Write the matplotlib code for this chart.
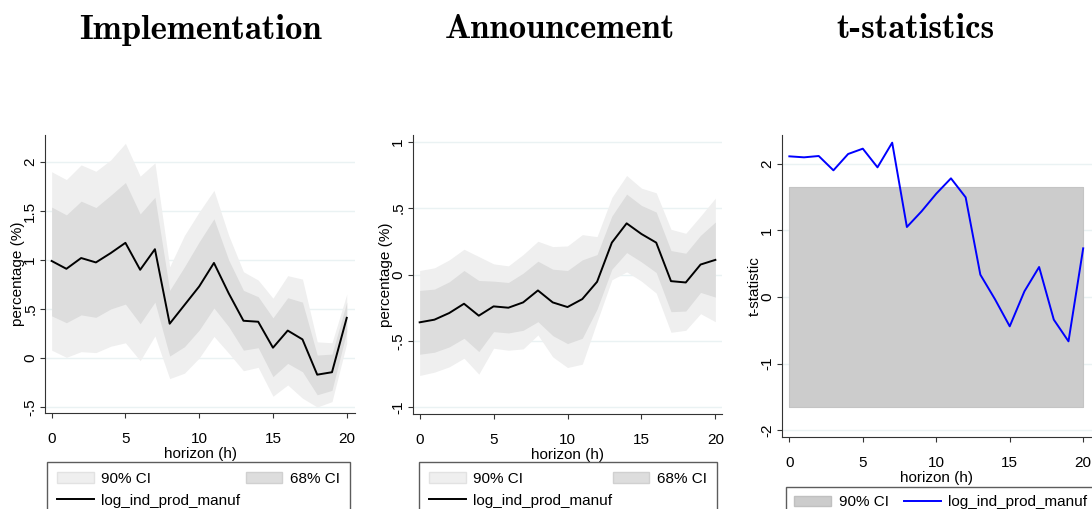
import numpy as np
import matplotlib.pyplot as plt
from matplotlib.patches import Patch
from matplotlib.lines import Line2D

plt.rcParams['font.family'] = ['Liberation Sans', 'DejaVu Sans']

h = np.arange(21)

# Implementation
imp = [0.99, 0.91, 1.02, 0.975, 1.07, 1.175, 0.90, 1.11, 0.35, 0.54, 0.73,
       0.97, 0.66, 0.38, 0.37, 0.105, 0.28, 0.19, -0.17, -0.145, 0.41]
imp_hi68 = [1.54, 1.46, 1.60, 1.535, 1.66, 1.79, 1.47, 1.64, 0.69, 0.93, 1.185,
            1.42, 1.00, 0.69, 0.625, 0.41, 0.615, 0.57, 0.03, 0.04, 0.57]
imp_lo68 = [0.43, 0.36, 0.44, 0.415, 0.50, 0.55, 0.35, 0.57, 0.02, 0.115, 0.285,
            0.51, 0.32, 0.08, 0.105, -0.19, -0.055, -0.14, -0.375, -0.33, 0.27]
imp_hi90 = [1.90, 1.82, 1.97, 1.905, 2.02, 2.19, 1.855, 1.99, 0.93, 1.25, 1.49,
            1.71, 1.25, 0.88, 0.795, 0.61, 0.84, 0.805, 0.165, 0.155, 0.65]
imp_lo90 = [0.08, 0.007, 0.065, 0.055, 0.12, 0.155, -0.027, 0.225, -0.21, -0.155, 0.0,
            0.22, 0.05, -0.13, -0.095, -0.39, -0.275, -0.41, -0.50, -0.445, 0.15]

# Announcement
ann = [-0.36, -0.34, -0.29, -0.22, -0.31, -0.24, -0.25, -0.21, -0.12, -0.21, -0.245,
       -0.185, -0.055, 0.24, 0.385, 0.305, 0.24, -0.05, -0.06, 0.075, 0.11]
ann_hi68 = [-0.12, -0.11, -0.055, 0.03, -0.045, -0.05, -0.06, 0.01, 0.10, 0.04, 0.03,
            0.11, 0.15, 0.44, 0.605, 0.52, 0.47, 0.18, 0.16, 0.295, 0.395]
ann_lo68 = [-0.60, -0.585, -0.545, -0.48, -0.58, -0.43, -0.44, -0.42, -0.355, -0.46, -0.52,
            -0.48, -0.26, 0.04, 0.165, 0.095, 0.015, -0.28, -0.275, -0.135, -0.17]
ann_hi90 = [0.03, 0.05, 0.11, 0.19, 0.135, 0.08, 0.065, 0.15, 0.25, 0.21, 0.215,
            0.30, 0.285, 0.58, 0.745, 0.65, 0.615, 0.34, 0.31, 0.44, 0.575]
ann_lo90 = [-0.76, -0.735, -0.695, -0.63, -0.75, -0.555, -0.57, -0.56, -0.455, -0.62, -0.70,
            -0.675, -0.355, -0.04, 0.02, -0.05, -0.14, -0.435, -0.42, -0.295, -0.355]

# t-statistics
tstat = [2.11, 2.095, 2.115, 1.90, 2.145, 2.225, 1.945, 2.315, 1.05, 1.285, 1.55,
         1.78, 1.495, 0.335, -0.035, -0.44, 0.085, 0.45, -0.34, -0.665, 0.73]
tcrit = 1.645

titles = ['Implementation', 'Announcement', 't-statistics']
c90 = '#efefef'
c68 = '#dddddd'
gridc = '#eaf2f3'


def fmt(v):
    s = ('%g' % v)
    s = s.replace('0.', '.')
    return s


def style(ax, yticks):
    for s in ['top', 'right']:
        ax.spines[s].set_visible(False)
    ax.spines['left'].set_color('#333333')
    ax.spines['bottom'].set_color('#333333')
    ax.set_xticks([0, 5, 10, 15, 20])
    ax.set_yticks(yticks)
    ax.set_yticklabels([fmt(v) for v in yticks], rotation=90, va='center')
    ax.tick_params(direction='out', length=3.6, color='#333333', labelsize=11)
    ax.tick_params(axis='x', pad=10)
    ax.tick_params(axis='y', pad=2)
    ax.yaxis.grid(True, color=gridc, lw=1)
    ax.set_axisbelow(True)
    ax.set_xlabel('horizon (h)', fontsize=11, labelpad=0.5)


fig = plt.figure(figsize=(10.92, 5.09), dpi=100)
W, H = 1092, 509


def box(l, r, t, b):
    return [l / W, 1 - b / H, (r - l) / W, (b - t) / H]


ax1 = fig.add_axes(box(45, 355, 135, 413))
ax1.fill_between(h, imp_lo90, imp_hi90, color=c90, lw=0)
ax1.fill_between(h, imp_lo68, imp_hi68, color=c68, lw=0)
ax1.plot(h, imp, color='black', lw=1.4)
ax1.set_xlim(-0.45, 20.56)
ax1.set_ylim(-0.561, 2.275)
style(ax1, [-0.5, 0, 0.5, 1, 1.5, 2])
ax1.set_ylabel('percentage (%)', fontsize=11, labelpad=-1)

ax2 = fig.add_axes(box(413, 722, 135, 414))
ax2.fill_between(h, ann_lo90, ann_hi90, color=c90, lw=0)
ax2.fill_between(h, ann_lo68, ann_hi68, color=c68, lw=0)
ax2.plot(h, ann, color='black', lw=1.4)
ax2.set_xlim(-0.45, 20.45)
ax2.set_ylim(-1.05, 1.05)
style(ax2, [-1, -0.5, 0, 0.5, 1])
ax2.set_ylabel('percentage (%)', fontsize=11, labelpad=-1)

ax3 = fig.add_axes(box(782, 1092, 135, 437))
ax3.fill_between([0, 20], [-tcrit, -tcrit], [tcrit, tcrit], color='#cccccc',
                 edgecolor='#c4c4c4', lw=0.8)
ax3.plot(h, tstat, color='#0000ff', lw=1.4)
ax3.set_xlim(-0.5, 20.6)
ax3.set_ylim(-2.1, 2.43)
style(ax3, [-2, -1, 0, 1, 2])
ax3.set_ylabel('t-statistic', fontsize=11, labelpad=-1)

tx = [200, 560, 915]
for t, x in zip(titles, tx):
    fig.text(x / W, 1 - 30 / H, t, ha='center', va='center', fontsize=25,
             family=['cmb10', 'DejaVu Serif'], fontweight='bold')

# legends
for ax, l, r in [(ax1, 47, 350), (ax2, 419, 717)]:
    hs = [Patch(facecolor=c90, edgecolor='#e2e2e2'),
          Line2D([], [], color='black', lw=1.4),
          Patch(facecolor=c68, edgecolor='#d0d0d0')]
    labs = ['90% CI', 'log_ind_prod_manuf', '68% CI']
    fig.legend(hs, labs, loc='upper left', ncol=2, mode='expand',
               bbox_to_anchor=(l / W, 1 - 462 / H, (r - l) / W, 0.0),
               fontsize=11, frameon=True, fancybox=False, edgecolor='#333333',
               borderaxespad=0, handlelength=2.4, handleheight=0.65,
               handletextpad=0.5, labelspacing=0.5, borderpad=0.65)

hs3 = [Patch(facecolor='#cccccc', edgecolor='#c0c0c0'),
       Line2D([], [], color='#0000ff', lw=1.4)]
fig.legend(hs3, ['90% CI', 'log_ind_prod_manuf'], loc='upper left', ncol=2,
           bbox_to_anchor=(786 / W, 1 - 487 / H), fontsize=11, frameon=True,
           fancybox=False, edgecolor='#333333', borderaxespad=0,
           handlelength=2.4, handleheight=0.65, handletextpad=0.5,
           columnspacing=1.0, borderpad=0.55)

fig.savefig('out.png', dpi=100)
